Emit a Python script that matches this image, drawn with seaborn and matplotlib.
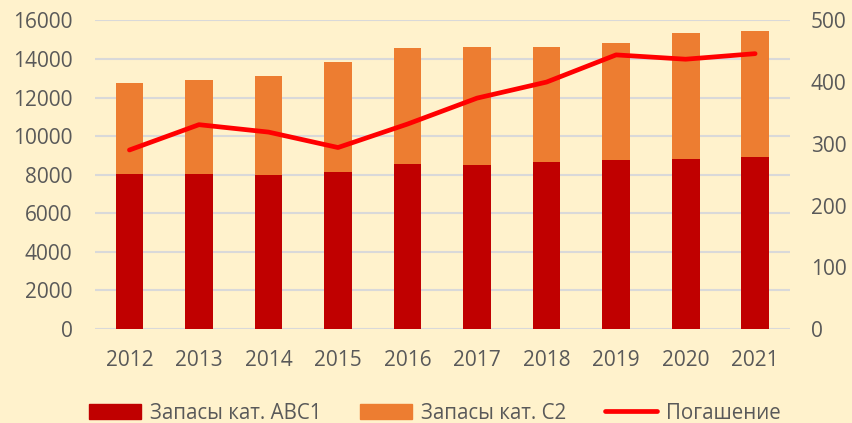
import numpy as np
import pandas as pd
import matplotlib
matplotlib.use("Agg")
import matplotlib.pyplot as plt
import seaborn as sns
from matplotlib.patches import Patch
from matplotlib.lines import Line2D

# Values
years = ["2012", "2013", "2014", "2015", "2016", "2017", "2018", "2019", "2020", "2021"]
abc1 = [8050, 8050, 8000, 8140, 8570, 8520, 8660, 8780, 8820, 8940]
c2 = [4710, 4860, 5120, 5690, 5990, 6110, 5970, 6020, 6500, 6530]
repay = [290, 331, 319, 294, 332, 374, 400, 444, 437, 446]

left_ticks = [0, 2000, 4000, 6000, 8000, 10000, 12000, 14000, 16000]
right_ticks = [0, 100, 200, 300, 400, 500]

bg = "#FFF2CC"
txt = "#595959"

sns.set_theme(style="white")
plt.rcParams["font.family"] = ["Open Sans", "DejaVu Sans"]

df = pd.DataFrame({"year": years, "abc1": abc1, "c2": c2, "repay": repay})
df["total"] = df["abc1"] + df["c2"]

fig = plt.figure(figsize=(8.53, 4.23), dpi=100, facecolor=bg)
ax = fig.add_axes([0.111, 0.222, 0.815, 0.730])
ax.set_facecolor(bg)

# stacked bars: draw total first, then ABC1 on top of it
sns.barplot(data=df, x="year", y="total", color="#ED7D31", width=0.4,
            saturation=1, linewidth=0, ax=ax, zorder=2)
sns.barplot(data=df, x="year", y="abc1", color="#C00000", width=0.4,
            saturation=1, linewidth=0, ax=ax, zorder=3)

ax.set_ylim(0, 16000)
ax.set_xlim(-0.5, 9.5)
ax.set_yticks(left_ticks)
ax.yaxis.grid(True, color="#D9D9D9", linewidth=1.5, zorder=0)
ax.set_axisbelow(True)
ax.set_xlabel("")
ax.set_ylabel("")
ax.tick_params(axis="both", length=0, labelsize=15, labelcolor=txt)
ax.tick_params(axis="x", pad=15)
ax.tick_params(axis="y", pad=16)
for s in ax.spines.values():
    s.set_visible(False)

ax2 = ax.twinx()
sns.lineplot(x=np.arange(len(years)), y=df["repay"], color="#FF0000",
             linewidth=3.4, ax=ax2, zorder=4, solid_capstyle="round")
ax2.set_ylim(0, 500)
ax2.set_yticks(right_ticks)
ax2.set_ylabel("")
ax2.tick_params(axis="y", length=0, labelsize=15, labelcolor=txt, pad=15)
for s in ax2.spines.values():
    s.set_visible(False)

handles = [Patch(color="#C00000"), Patch(color="#ED7D31"),
           Line2D([], [], color="#FF0000", linewidth=3.4, solid_capstyle="round")]
labels = ["Запасы кат. АВС1", "Запасы кат. С2", "Погашение"]
fig.legend(handles, labels, loc="lower center", bbox_to_anchor=(0.51, -0.045),
           ncol=3, frameon=False, fontsize=14.8, labelcolor=txt,
           handlelength=2.5, handleheight=0.7, handletextpad=0.45,
           columnspacing=1.9)

fig.savefig("out.png", dpi=100, facecolor=bg)
